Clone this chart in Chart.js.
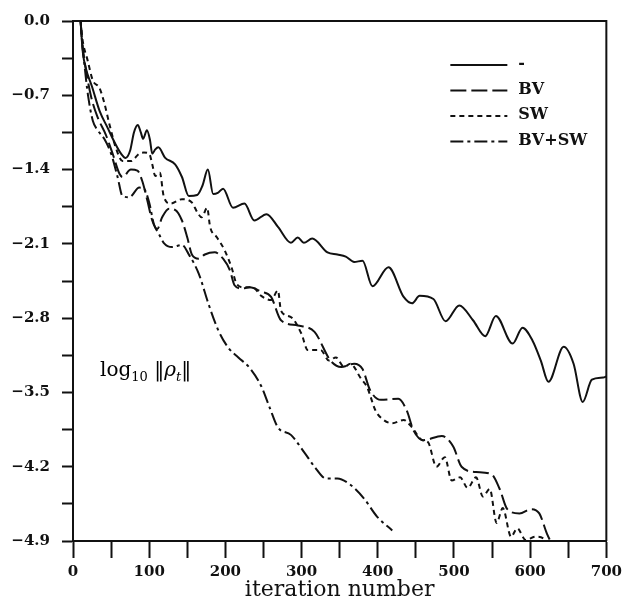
<!DOCTYPE html>
<html><head><meta charset="utf-8">
<style>
html,body{margin:0;padding:0;background:#fff;}
#wrap{position:relative;width:627px;height:602px;overflow:hidden;}
#c{position:absolute;left:0;top:0;}
#lab{position:absolute;left:100px;top:357px;font-family:'DejaVu Serif';font-size:20px;color:#000;white-space:nowrap;}
#lab sub{font-size:13px;}
</style>
<script src="https://cdn.jsdelivr.net/npm/chart.js@4.4.1/dist/chart.umd.min.js"></script>
</head><body>
<div id="wrap"><canvas id="c" width="627" height="602"></canvas>
<div id="lab">log<sub>10</sub> ‖<i>ρ</i><sub><i>t</i></sub>‖</div></div>
<script>
// ---- data (iteration, log10 residual) ----
const SERIES_LABELS = ['-', 'BV', 'SW', 'BV+SW'];
const NONE = [[10,0],[11,-0.12],[13,-0.3],[17,-0.45],[25,-0.62],[35,-0.85],[45,-1.0],[55,-1.15],[63,-1.25],[69,-1.29],[75,-1.22],[80,-1.05],[85,-0.98],[89,-1.05],[92,-1.11],[97,-1.03],[101,-1.12],[104,-1.25],[108,-1.21],[112,-1.19],[121,-1.29],[134,-1.35],[143,-1.47],[152,-1.65],[163,-1.64],[170,-1.55],[177,-1.40],[184,-1.63],[190,-1.62],[197,-1.58],[210,-1.76],[225,-1.72],[238,-1.88],[254,-1.82],[269,-1.94],[286,-2.09],[295,-2.04],[303,-2.09],[314,-2.05],[334,-2.18],[347,-2.20],[358,-2.22],[369,-2.27],[380,-2.26],[393,-2.50],[414,-2.32],[434,-2.60],[445,-2.66],[455,-2.59],[473,-2.62],[489,-2.83],[507,-2.68],[525,-2.82],[541,-2.97],[555,-2.78],[577,-3.04],[590,-2.89],[603,-3.01],[614,-3.20],[624,-3.40],[644,-3.07],[657,-3.23],[669,-3.59],[681,-3.38],[696,-3.36],[700,-3.35]];
const BV = [[10,0],[12,-0.2],[16.5,-0.44],[24,-0.72],[32.5,-0.91],[43,-1.07],[52,-1.25],[61,-1.44],[65,-1.47],[76,-1.40],[84.5,-1.41],[91,-1.51],[97.5,-1.69],[104,-1.88],[110.5,-1.96],[117,-1.85],[126,-1.77],[134,-1.78],[143,-1.88],[150,-2.04],[156,-2.20],[165,-2.24],[173,-2.20],[186,-2.18],[197,-2.24],[206,-2.35],[212,-2.49],[221,-2.52],[232,-2.51],[247,-2.55],[260,-2.60],[273,-2.82],[295,-2.87],[317,-2.93],[338,-3.20],[352,-3.26],[369,-3.23],[380,-3.28],[390,-3.48],[404,-3.57],[427,-3.56],[438,-3.67],[447,-3.86],[460,-3.95],[484,-3.91],[499,-4.01],[510,-4.20],[529,-4.25],[549,-4.27],[560,-4.41],[570,-4.60],[586,-4.64],[601,-4.60],[612,-4.64],[622,-4.83],[630,-4.95]];
const SW = [[10,0],[12,-0.15],[19.5,-0.38],[26,-0.56],[34.7,-0.63],[41,-0.77],[47.7,-0.97],[56,-1.19],[65,-1.32],[76,-1.32],[87,-1.25],[93,-1.24],[100,-1.25],[104,-1.35],[108,-1.46],[114,-1.43],[119,-1.65],[128,-1.72],[143,-1.68],[156,-1.71],[163,-1.80],[169,-1.85],[176,-1.76],[180,-1.94],[189,-2.04],[199,-2.16],[208,-2.32],[215,-2.48],[225,-2.51],[236,-2.51],[247,-2.59],[260,-2.63],[269,-2.54],[273,-2.73],[286,-2.79],[300,-2.95],[308,-3.10],[325,-3.10],[336,-3.20],[345,-3.17],[356,-3.26],[364,-3.23],[378,-3.37],[386,-3.45],[397,-3.67],[406,-3.75],[419,-3.79],[434,-3.76],[445,-3.83],[458,-3.95],[466,-3.97],[477,-4.20],[488,-4.11],[497,-4.33],[508,-4.30],[518,-4.40],[529,-4.30],[538,-4.48],[547,-4.41],[556,-4.73],[564,-4.59],[575,-4.86],[583,-4.78],[594,-4.89],[607,-4.86],[620,-4.89],[625,-4.95]];
const BVSW = [[10,0],[12,-0.2],[15,-0.41],[19.5,-0.69],[26,-0.94],[32.5,-1.03],[41,-1.11],[50,-1.25],[58.5,-1.47],[65,-1.65],[74,-1.66],[87,-1.57],[93,-1.58],[100,-1.71],[106,-1.91],[113,-2.01],[119,-2.09],[130,-2.13],[143,-2.11],[152,-2.20],[165,-2.38],[178,-2.67],[191,-2.92],[204,-3.08],[217,-3.17],[232,-3.27],[247,-3.44],[258,-3.64],[269,-3.83],[286,-3.90],[304,-4.07],[317,-4.20],[332,-4.31],[347,-4.31],[364,-4.37],[382,-4.50],[399,-4.67],[419,-4.80]];
const X_TICKS = [0,50,100,150,200,250,300,350,400,450,500,550,600,650,700];
const X_LABELS = ['0','','100','','200','','300','','400','','500','','600','','700'];
const Y_TICKS = [-4.9,-4.55,-4.2,-3.85,-3.5,-3.15,-2.8,-2.45,-2.1,-1.75,-1.4,-1.05,-0.7,-0.35,0];
const Y_LABELS = ['\u22124.9','','\u22124.2','','\u22123.5','','\u22122.8','','\u22122.1','','\u22121.4','','\u22120.7','','0.0'];

const STYLES = [
  {dash: []},
  {dash: [16,5]},
  {dash: [5,4]},
  {dash: [13,4,3,4]}
];
const SERIES = [NONE, BV, SW, BVSW];

const tickFont = {family: 'DejaVu Serif', size: 15, weight: 'bold'};
const INK = '#111';

const framePlugin = {
  id: 'frame',
  afterDraw(chart) {
    const {ctx, chartArea: a} = chart;
    ctx.save();
    ctx.strokeStyle = INK; ctx.lineWidth = 2; ctx.setLineDash([]);
    ctx.beginPath();
    ctx.moveTo(a.left, a.top); ctx.lineTo(a.right, a.top); ctx.lineTo(a.right, a.bottom);
    ctx.stroke();
    // legend inside plot
    chart.data.datasets.forEach((ds, i) => {
      const y = a.top + 44 + i * 25.5;
      ctx.strokeStyle = ds.borderColor; ctx.lineWidth = ds.borderWidth;
      ctx.setLineDash(ds.borderDash || []);
      ctx.beginPath(); ctx.moveTo(a.right - 156, y); ctx.lineTo(a.right - 99, y); ctx.stroke();
      ctx.setLineDash([]);
      ctx.fillStyle = INK; ctx.font = 'bold 16px "DejaVu Serif"'; ctx.textBaseline = 'alphabetic'; ctx.textAlign = 'left';
      ctx.fillText(ds.label, a.right - 88, y + 3);
    });
    ctx.restore();
  }
};

function lab(ticksArr, labels, v) {
  const i = ticksArr.findIndex(t => Math.abs(t - v) < 1e-6);
  return i >= 0 ? labels[i] : '';
}

new Chart(document.getElementById('c'), {
  type: 'line',
  data: {
    datasets: SERIES.map((s, i) => ({
      label: SERIES_LABELS[i],
      data: s.map(p => ({x: p[0], y: p[1]})),
      borderColor: INK,
      borderWidth: 2,
      borderDash: STYLES[i].dash,
      pointRadius: 0,
      fill: false,
      cubicInterpolationMode: 'monotone'
    }))
  },
  options: {
    responsive: false,
    animation: false,
    layout: {padding: {top: 20, right: 16, left: 0, bottom: 0}},
    plugins: {legend: {display: false}, tooltip: {enabled: false}},
    scales: {
      x: {
        type: 'linear', min: 0, max: 700,
        afterBuildTicks: s => { s.ticks = X_TICKS.map(v => ({value: v})); },
        ticks: {callback: v => lab(X_TICKS, X_LABELS, v), font: tickFont, color: INK, padding: 5, maxRotation: 0, autoSkip: false},
        grid: {drawOnChartArea: false, tickLength: 17, tickWidth: 2, color: INK},
        border: {color: INK, width: 2},
        title: {display: true, text: 'iteration number', color: INK, font: {family: 'DejaVu Serif', size: 22, lineHeight: 1}, padding: {top: 0, bottom: 1}},
        afterFit: s => { s.height = 61; }
      },
      y: {
        type: 'linear', min: -4.9, max: 0,
        afterBuildTicks: s => { s.ticks = Y_TICKS.map(v => ({value: v})); },
        ticks: {callback: v => lab(Y_TICKS, Y_LABELS, v), font: tickFont, color: INK, padding: 12, autoSkip: false},
        grid: {drawOnChartArea: false, tickLength: 11, tickWidth: 2, color: INK},
        border: {color: INK, width: 2},
        afterFit: s => { s.width = 73; }
      }
    }
  },
  plugins: [framePlugin]
});
</script>
</body></html>
